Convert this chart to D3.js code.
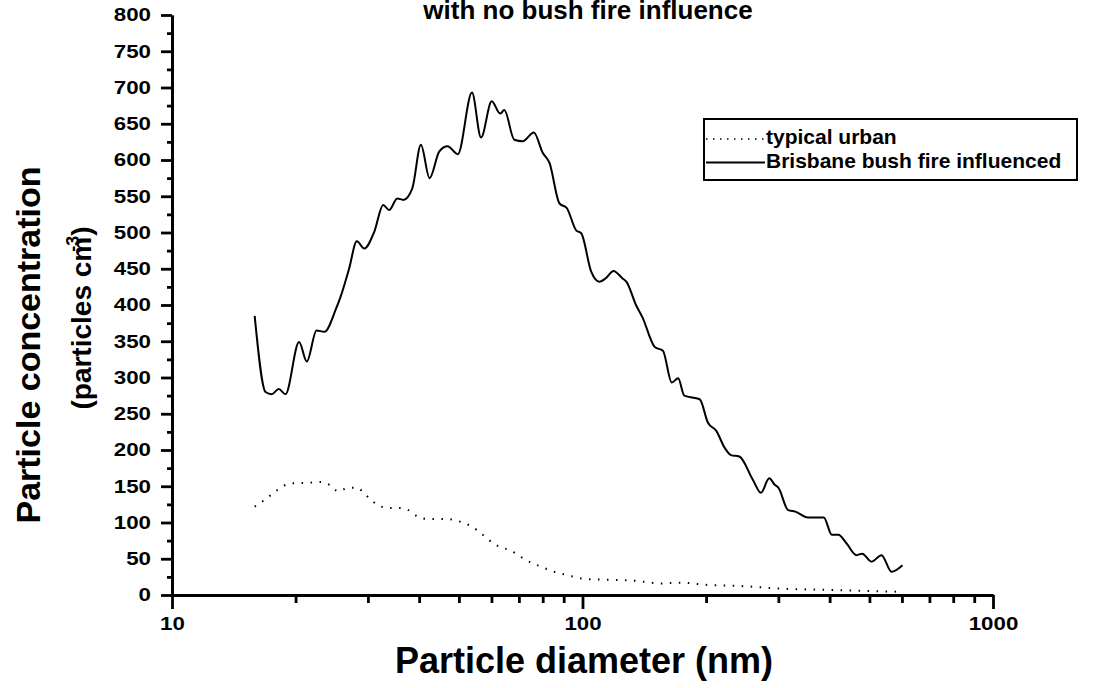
<!DOCTYPE html>
<html>
<head>
<meta charset="utf-8">
<script src="https://cdn.jsdelivr.net/npm/d3@7"></script>
<style>
  body { margin: 0; background: #fff; }
  text { font-family: "Liberation Sans", Arial, sans-serif; font-weight: bold; fill: #000; }
</style>
</head>
<body>
<div id="chart"></div>
<script>
// Brisbane bush fire influenced (solid)
var fireDiameter = [15.9, 16.9, 17.5, 18.2, 18.9, 20.4, 21.3, 22.5, 23.5, 25.1, 25.8, 27.0, 28.2, 29.4, 31.1, 32.7, 33.8, 35.4, 36.6, 38.5,
  40.4, 42.4, 44.8, 46.9, 49.7, 53.8, 56.6, 60.1, 63.0, 64.5, 68.2, 71.5, 76.1, 80.0, 83.1, 87.9, 91.5, 96.5, 99.3, 105,
  110, 114, 119, 125, 128, 135, 140, 150, 157, 165, 171, 177, 193, 202, 212, 222, 230, 241, 260, 272,
  285, 294, 300, 317, 330, 354, 387, 405, 420, 440, 465, 480, 506, 535, 566, 602];
var fireConc = [385, 280, 277, 284, 277, 349, 322, 365, 363, 395, 413, 450, 488, 478, 501, 538, 531, 547, 545, 561,
  621, 575, 612, 619, 608, 693, 631, 681, 664, 669, 628, 626, 638, 610, 596, 540, 534, 503, 499, 446,
  432, 437, 447, 437, 432, 400, 383, 342, 337, 293, 299, 275, 270, 238, 226, 203, 193, 191, 159, 141,
  161, 152, 148, 117, 115, 107, 107, 83, 83, 71, 55, 57, 46, 55, 32, 41];

// typical urban (dotted)
var urbanDiameter = [15.9, 16.8, 17.7, 18.6, 19.7, 21.8, 23.1, 24.2, 25.4, 26.9, 28.2, 29.1, 30.4, 32.3, 33.8, 35.8, 37.7, 39.7, 42,
  46.5, 49, 53, 55.8, 58.8, 62.0, 65.5, 68.9, 72.6, 76.6, 80.9, 85.3, 89.4, 95.5, 101.6, 114, 132, 155, 174, 200, 241, 300, 400, 582];
var urbanConc = [122, 131, 141, 150, 154, 155, 156, 152, 143, 148, 148, 143, 132, 122, 120, 120, 117, 108, 105,
  105, 103, 96, 88, 77, 68, 63, 57, 48.5, 42.5, 37, 32, 29, 25, 22, 21, 20, 16, 17, 14, 12.5, 9, 7, 4.6];

var yTicks = d3.range(0, 801, 50);
var yMinor = d3.range(25, 800, 50);
var xTicks = [10, 100, 1000];
var xMinor = [20, 30, 40, 50, 60, 70, 80, 90, 200, 300, 400, 500, 600, 700, 800, 900];

var width = 1098, height = 688;
var svg = d3.select("#chart").append("svg")
  .attr("width", width).attr("height", height);

var x = d3.scaleLog().domain([10, 1000]).range([172, 993]);
var y = d3.scaleLinear().domain([0, 800]).range([595, 15]);

// title (second line, top is cut off)
svg.append("text").attr("x", 588).attr("y", 19).attr("text-anchor", "middle")
  .style("font-size", "26px").text("with no bush fire influence");

// lines
var line = d3.line().curve(d3.curveMonotoneX);
var firePts = fireDiameter.map(function (d, i) { return [x(d), y(fireConc[i])]; });
var urbanPts = urbanDiameter.map(function (d, i) { return [x(d), y(urbanConc[i])]; });

svg.append("path").attr("d", line(urbanPts)).attr("fill", "none")
  .attr("stroke", "#000").attr("stroke-width", 2).attr("stroke-dasharray", "1.5,7.5");
svg.append("path").attr("d", line(firePts)).attr("fill", "none")
  .attr("stroke", "#000").attr("stroke-width", 2);

// axes
function styleAxis(g) {
  g.selectAll("path").attr("stroke", "#000").attr("stroke-width", 2.8);
  g.selectAll("line").attr("stroke", "#000").attr("stroke-width", 2.8);
  g.selectAll("text").style("font-family", "'Liberation Sans', Arial, sans-serif")
    .style("font-weight", "bold").style("font-size", "18px")
    .attr("lengthAdjust", "spacingAndGlyphs")
    .attr("textLength", function (d) { return String(d).length * 12.4; });
}

svg.append("g").attr("transform", "translate(0,595)")
  .call(d3.axisBottom(x).tickValues(xMinor).tickSize(8).tickFormat("").tickSizeOuter(0))
  .call(styleAxis);
svg.append("g").attr("transform", "translate(0,595)")
  .call(d3.axisBottom(x).tickValues(xTicks).tickSize(14).tickPadding(8).tickFormat(d3.format("d")).tickSizeOuter(0))
  .call(styleAxis);

svg.append("g").attr("transform", "translate(172,0)")
  .call(d3.axisLeft(y).tickValues(yMinor).tickSize(5).tickFormat("").tickSizeOuter(0))
  .call(styleAxis);
svg.append("g").attr("transform", "translate(172,0)")
  .call(d3.axisLeft(y).tickValues(yTicks).tickSize(11).tickPadding(10).tickFormat(d3.format("d")).tickSizeOuter(0))
  .call(styleAxis);

// axis titles
svg.append("text").attr("x", 584).attr("y", 673).attr("text-anchor", "middle")
  .style("font-size", "36px").text("Particle diameter (nm)");

svg.append("text").attr("transform", "translate(40,345) rotate(-90)")
  .attr("text-anchor", "middle").style("font-size", "34px").text("Particle concentration");

var t2 = svg.append("text").attr("transform", "translate(91,318) rotate(-90)")
  .attr("text-anchor", "middle").style("font-size", "28px");
t2.append("tspan").text("(particles cm");
t2.append("tspan").attr("dy", -12).attr("dx", -15).style("font-size", "18px").text("-3");
t2.append("tspan").attr("dy", 12).text(")");

// legend
var lg = svg.append("g");
lg.append("rect").attr("x", 704).attr("y", 119).attr("width", 373).attr("height", 61)
  .attr("fill", "#fff").attr("stroke", "#000").attr("stroke-width", 2);
var legendItems = [
  { label: "typical urban", dash: "1.5,5.5" },
  { label: "Brisbane bush fire influenced", dash: null }
];
legendItems.forEach(function (d, i) {
  var cy = 139 + i * 23.5;
  lg.append("line").attr("x1", 706).attr("x2", 765).attr("y1", cy).attr("y2", cy)
    .attr("stroke", "#000").attr("stroke-width", d.dash ? 1.5 : 2)
    .attr("stroke-dasharray", d.dash);
  lg.append("text").attr("x", 766).attr("y", cy + 5).style("font-size", "21px").text(d.label);
});
</script>
</body>
</html>
